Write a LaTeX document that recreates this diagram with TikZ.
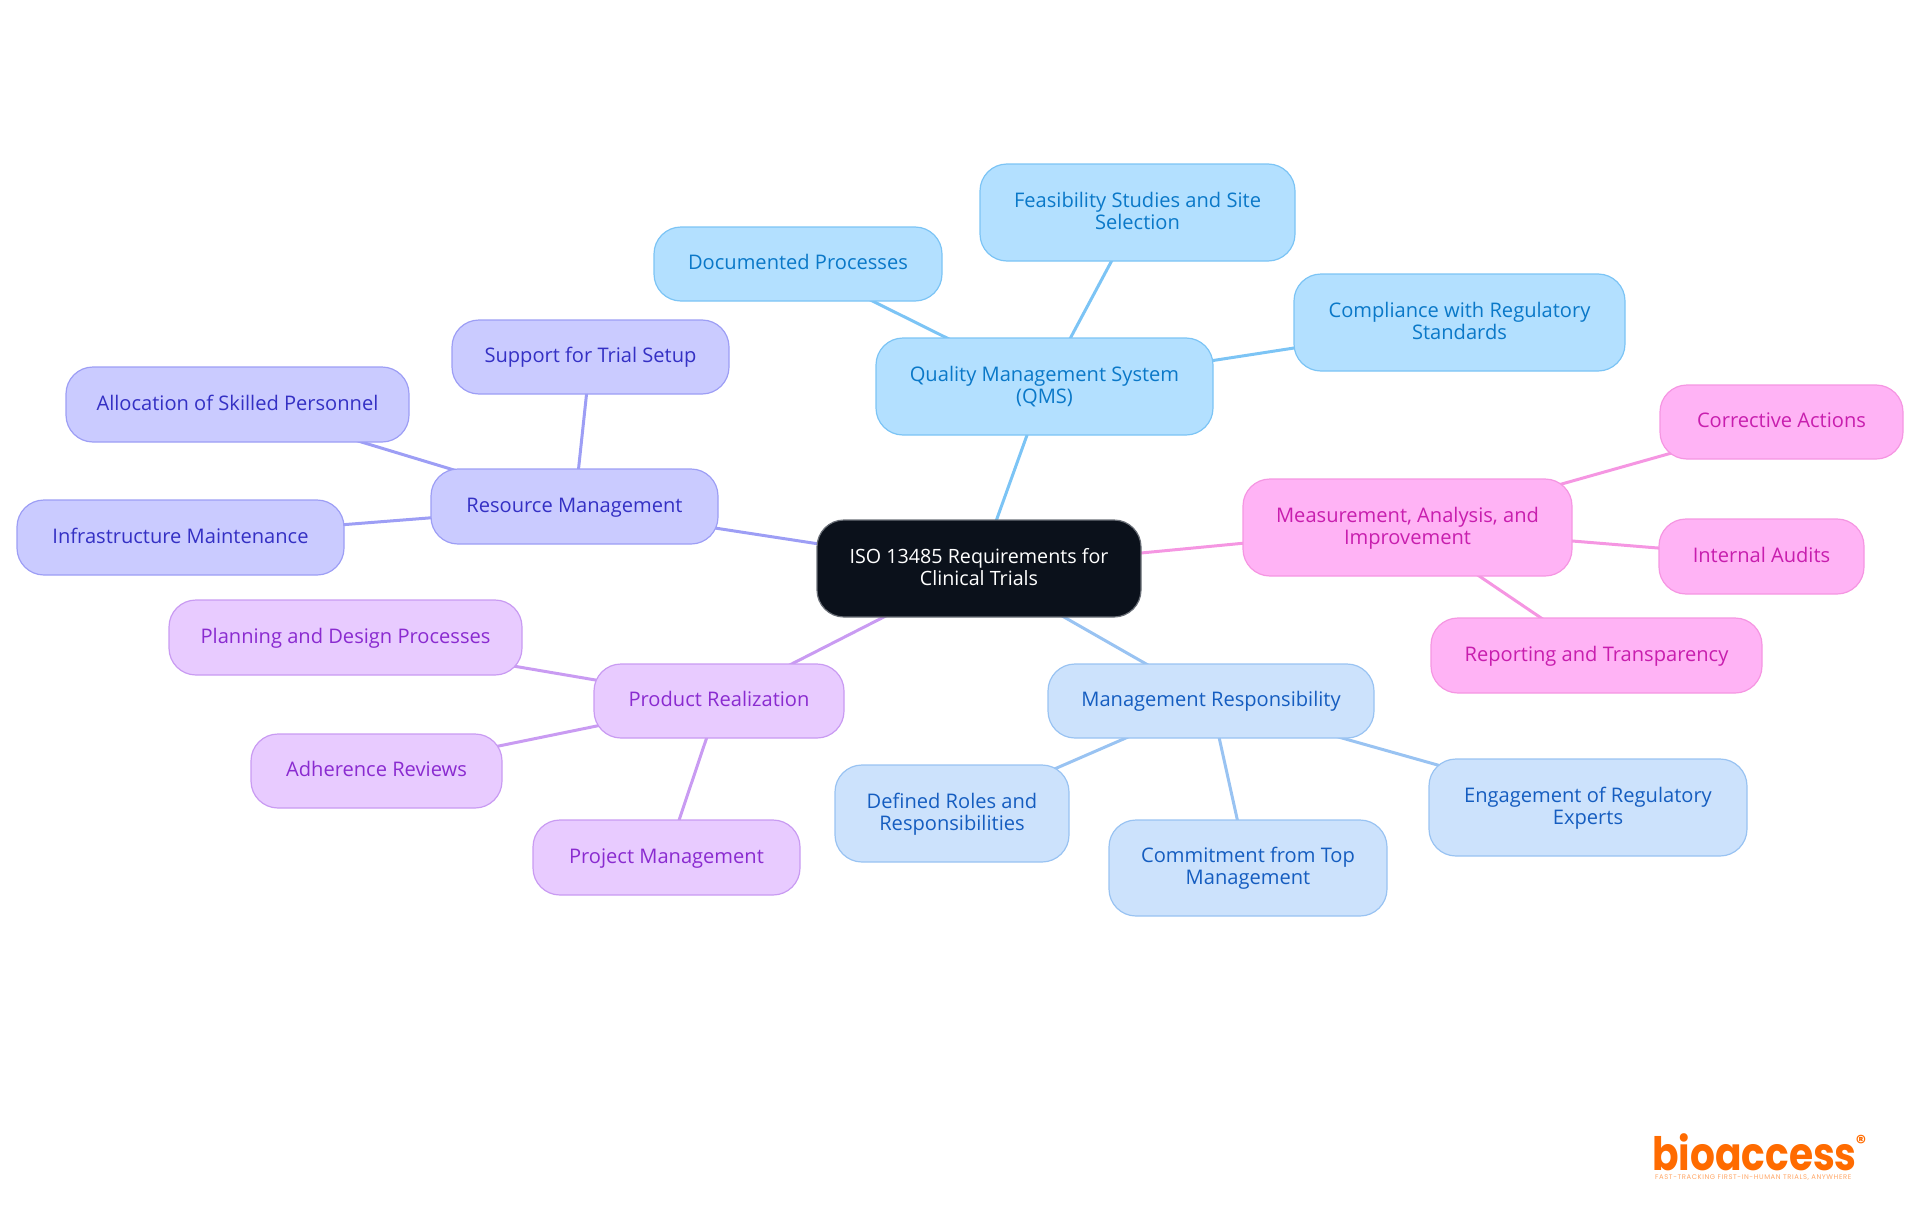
\documentclass[tikz,border=0pt]{standalone}
\usepackage{fontspec}
\setmainfont{Open Sans}
\newfontfamily\logofont{Poppins}
\usetikzlibrary{backgrounds}
\definecolor{rootfill}{HTML}{0B111B}
\definecolor{rootline}{HTML}{6B7078}
\definecolor{qf}{HTML}{B3E0FF}\definecolor{ql}{HTML}{7CC4F5}\definecolor{qt}{HTML}{0A78C8}
\definecolor{rf}{HTML}{CACBFF}\definecolor{rl}{HTML}{9D9EF5}\definecolor{rt}{HTML}{3430C4}
\definecolor{pf}{HTML}{E8CBFF}\definecolor{pl}{HTML}{C99BF2}\definecolor{pt}{HTML}{8A2BD0}
\definecolor{mf}{HTML}{CCE2FC}\definecolor{ml}{HTML}{99C3F2}\definecolor{mt}{HTML}{155DC0}
\definecolor{af}{HTML}{FFB3F5}\definecolor{al}{HTML}{F596E2}\definecolor{at}{HTML}{C81EAE}
\definecolor{logoc}{HTML}{FF6B00}
\newcommand{\mstrut}{\rule[-5pt]{0pt}{21.8pt}}
\tikzset{
 mm/.style={rounded corners=27pt,line width=1.2pt,align=center,inner sep=0pt,font=\fontsize{20.1}{22}\selectfont},
 rootn/.style={mm,fill=rootfill,draw=rootline,text=white,font=\fontsize{19.7}{22}\selectfont},
 qn/.style={mm,fill=qf,draw=ql,text=qt},
 rn/.style={mm,fill=rf,draw=rl,text=rt},
 pn/.style={mm,fill=pf,draw=pl,text=pt},
 mn/.style={mm,fill=mf,draw=ml,text=mt},
 an/.style={mm,fill=af,draw=al,text=at},
 qe/.style={draw=ql,line width=3pt},
 re/.style={draw=rl,line width=3pt},
 pe/.style={draw=pl,line width=3pt},
 me/.style={draw=ml,line width=3pt},
 ae/.style={draw=al,line width=3pt},
}
\newcommand{\mmnode}[7]{%
 \pgfmathsetmacro{\mcx}{(#3+#5)/2}\pgfmathsetmacro{\mcy}{(#4+#6)/2}%
 \pgfmathsetmacro{\mwd}{#5-#3}\pgfmathsetmacro{\mht}{#6-#4}%
 \node[#1,minimum width=\mwd pt,minimum height=\mht pt] (#2) at (\mcx,\mcy) {\mstrut #7\mstrut};}
\begin{document}
\begin{tikzpicture}[x=1pt,y=-1pt]
\useasboundingbox (0,0) rectangle (1920,1215);
\mmnode{rootn}{root}{817}{520}{1141}{617}{ISO 13485 Requirements for\\Clinical Trials}
\mmnode{qn}{qms}{876}{338}{1213}{435}{Quality Management System\\(QMS)}
\mmnode{qn}{feas}{980}{164}{1295}{261}{Feasibility Studies and Site\\Selection}
\mmnode{qn}{docu}{654}{227}{942}{301}{Documented Processes}
\mmnode{qn}{comp}{1294}{274}{1625}{371}{Compliance with Regulatory\\Standards}
\mmnode{rn}{reso}{431}{469}{718}{544}{Resource Management}
\mmnode{rn}{supp}{452}{320}{729}{394}{Support for Trial Setup}
\mmnode{rn}{allo}{66}{367}{409}{442}{Allocation of Skilled Personnel}
\mmnode{rn}{infr}{17}{500}{344}{575}{Infrastructure Maintenance}
\mmnode{pn}{prod}{594}{664}{844}{738}{Product Realization}
\mmnode{pn}{plan}{169}{600}{522}{675}{Planning and Design Processes}
\mmnode{pn}{adhe}{251}{734}{502}{808}{Adherence Reviews}
\mmnode{pn}{proj}{533}{820}{800}{895}{Project Management}
\mmnode{mn}{mgmt}{1048}{664}{1374}{738}{Management Responsibility}
\mmnode{mn}{defi}{835}{765}{1069}{862}{Defined Roles and\\Responsibilities}
\mmnode{mn}{comm}{1109}{820}{1387}{916}{Commitment from Top\\Management}
\mmnode{mn}{enga}{1429}{759}{1747}{856}{Engagement of Regulatory\\Experts}
\mmnode{an}{meas}{1243}{479}{1572}{576}{Measurement, Analysis, and\\Improvement}
\mmnode{an}{corr}{1660}{385}{1903}{459}{Corrective Actions}
\mmnode{an}{inte}{1659}{519}{1864}{594}{Internal Audits}
\mmnode{an}{repo}{1431}{618}{1762}{693}{Reporting and Transparency}
\begin{pgfonlayer}{background}
\draw[qe] (root.center) -- (qms.center);
\draw[qe] (qms.center) -- (feas.center);
\draw[qe] (qms.center) -- (docu.center);
\draw[qe] (qms.center) -- (comp.center);
\draw[re] (root.center) -- (reso.center);
\draw[re] (reso.center) -- (supp.center);
\draw[re] (reso.center) -- (allo.center);
\draw[re] (reso.center) -- (infr.center);
\draw[pe] (root.center) -- (prod.center);
\draw[pe] (prod.center) -- (plan.center);
\draw[pe] (prod.center) -- (adhe.center);
\draw[pe] (prod.center) -- (proj.center);
\draw[me] (root.center) -- (mgmt.center);
\draw[me] (mgmt.center) -- (defi.center);
\draw[me] (mgmt.center) -- (comm.center);
\draw[me] (mgmt.center) -- (enga.center);
\draw[ae] (root.center) -- (meas.center);
\draw[ae] (meas.center) -- (corr.center);
\draw[ae] (meas.center) -- (inte.center);
\draw[ae] (meas.center) -- (repo.center);
\end{pgfonlayer}
\node[anchor=base west,inner sep=0pt,text=logoc,transform shape,xscale=0.85,text depth=0pt,font=\logofont\bfseries\fontsize{46}{46}\selectfont] (logo) at (1652,1170) {bioaccess};
\node[anchor=center,inner sep=0pt,text=logoc,font=\logofont\bfseries\fontsize{20}{20}\selectfont] (reg) at (1861,1142) {®};
\node[anchor=base west,inner sep=0pt,text=logoc!60,font=\logofont\addfontfeature{LetterSpace=8.7}\fontsize{6.8}{6.8}\selectfont] (tag) at (1655,1179) {FAST-TRACKING FIRST-IN-HUMAN TRIALS, ANYWHERE};
\end{tikzpicture}
\end{document}
